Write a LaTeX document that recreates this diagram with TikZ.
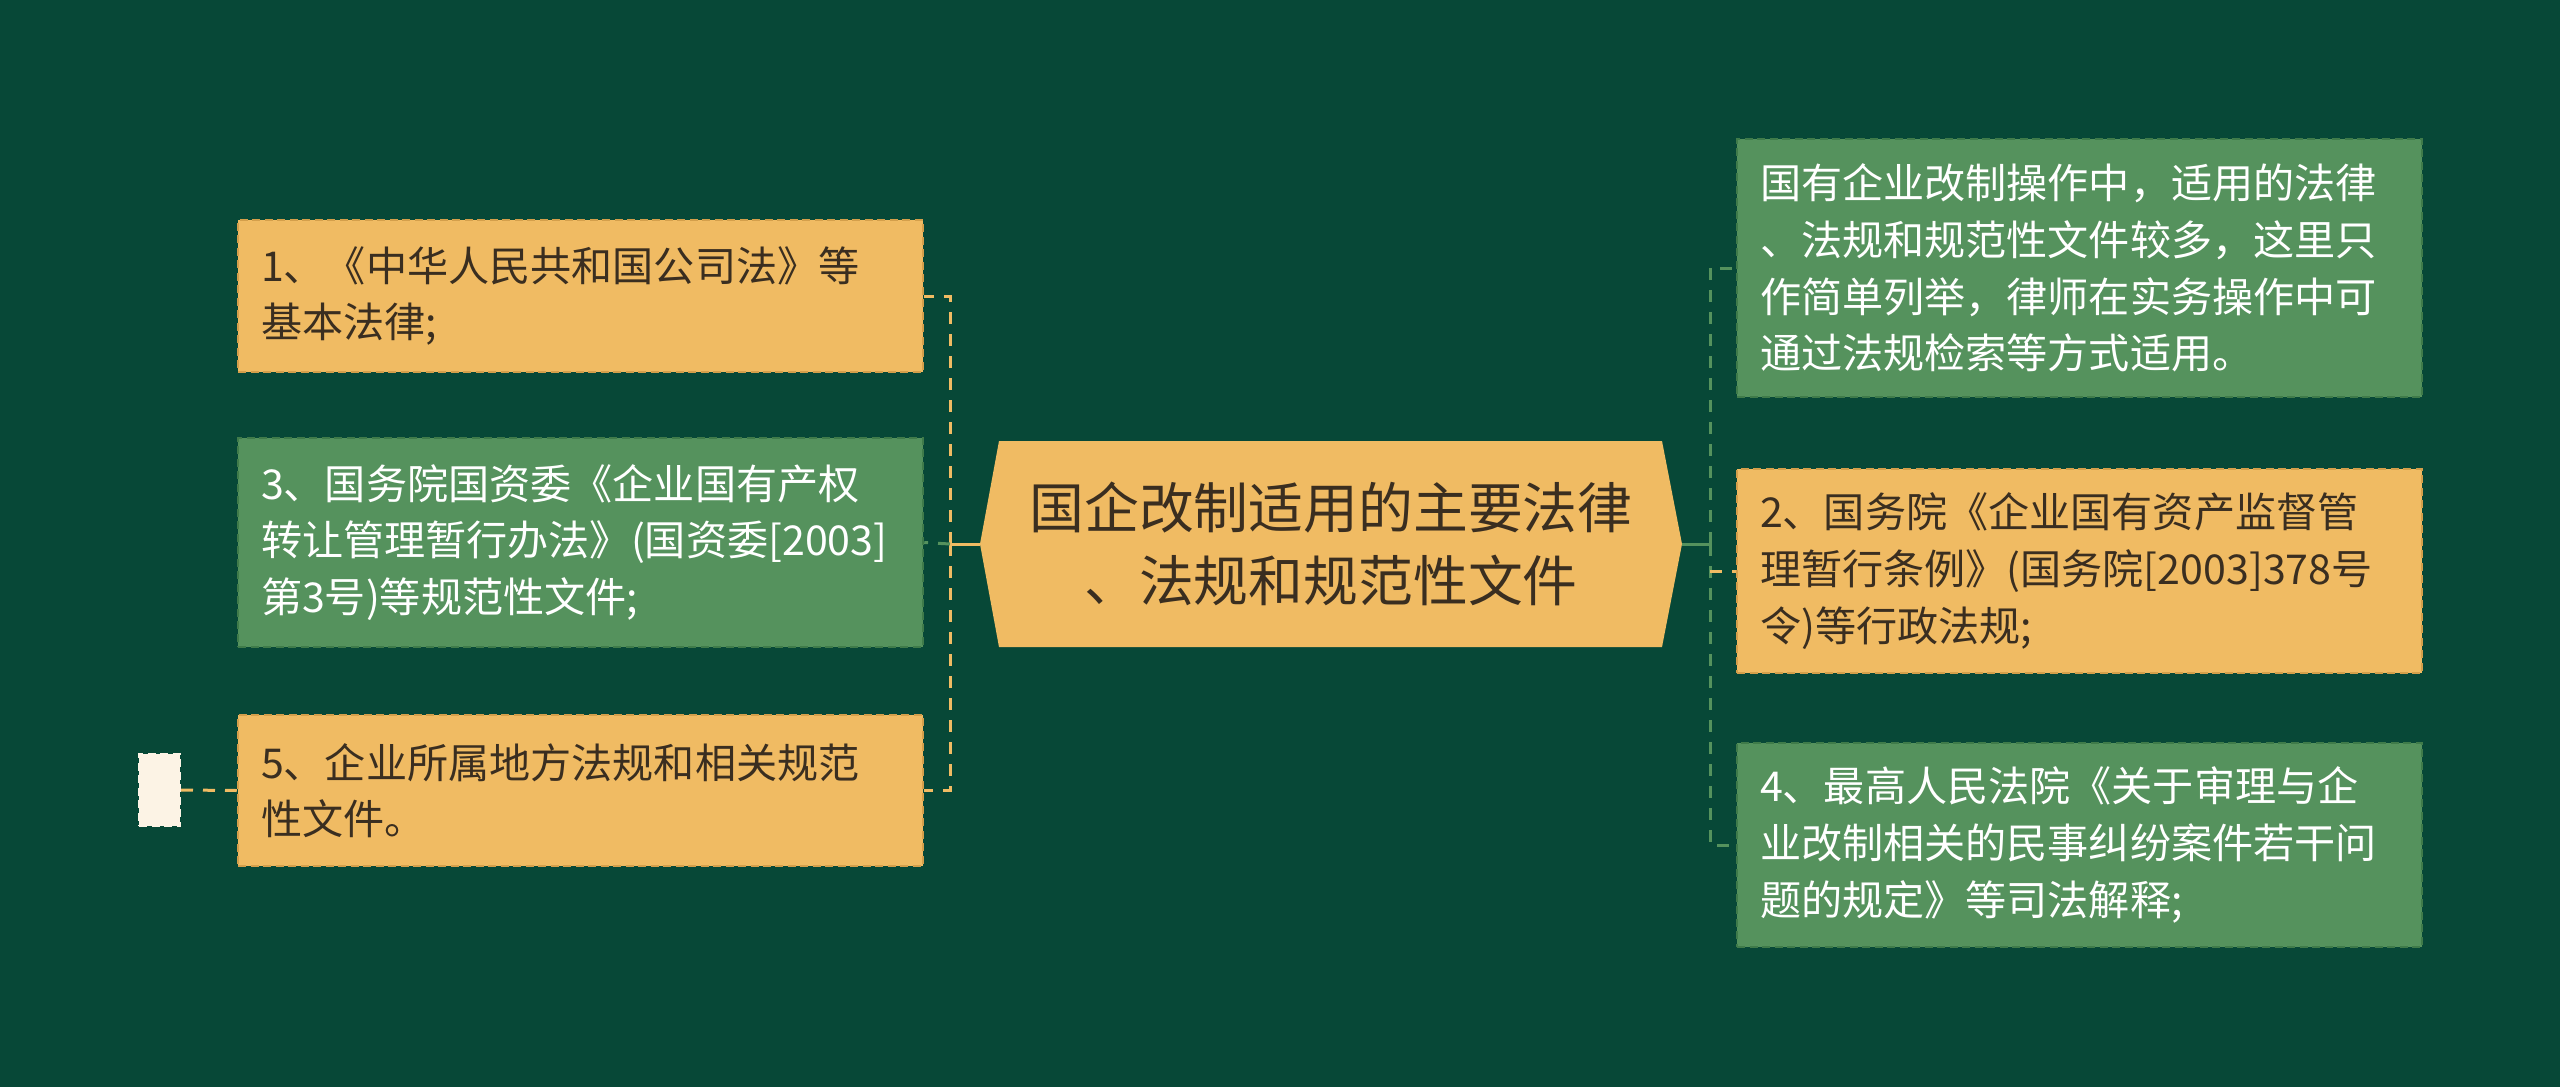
\documentclass[tikz,border=0pt]{standalone}
\usepackage{fontspec}
\setmainfont{Noto Sans CJK SC}
\definecolor{cbg}{HTML}{074837}
\definecolor{cyel}{HTML}{F0BB63}
\definecolor{cyelb}{HTML}{D49F4B}
\definecolor{cgrn}{HTML}{55925D}
\definecolor{cgrnb}{HTML}{3F7B4A}
\definecolor{ccream}{HTML}{FCF3E5}
\definecolor{ctext}{HTML}{3A2E20}
\begin{document}
\begin{tikzpicture}[x=0.1mm,y=-0.1mm,
  box/.style={draw, dash pattern=on 0.8mm off 0.45mm, line width=0.25mm, inner sep=0pt,
    text width=63.9mm, minimum width=68.5mm, align=left,
    font=\fontsize{11.7pt}{16.1pt}\selectfont},
  ybox/.style={box, fill=cyel, draw=cyelb, text=ctext},
  gbox/.style={box, fill=cgrn, draw=cgrnb, text=white},
  conn/.style={line width=0.3mm, dash pattern=on 1.2mm off 1mm},
  yconn/.style={conn, draw=cyel},
  gconn/.style={conn, draw=cgrn}]
\fill[cbg] (0,0) rectangle (2560,1087);
\useasboundingbox (0,0) rectangle (2560,1087);
% center
\fill[cyel] (980,544) -- (999,441) -- (1662,441) -- (1682,544) -- (1662,647) -- (999,647) -- cycle;
\node[font=\fontsize{15.6pt}{20.8pt}\selectfont, align=center, text=ctext, inner sep=0pt] (c) at (1331,544)
  {国企改制适用的主要法律\\、法规和规范性文件};
\coordinate (cl) at (980,544);
\coordinate (cr) at (1682,544);
\coordinate (lj) at (950,544);
\coordinate (rj) at (1710,544);
% left boxes
\node[ybox, minimum height=15.2mm] (b1) at (580.5,296)
  {1、《中华人民共和国公司法》等\\基本法律;};
\node[gbox, minimum height=20.9mm] (b3) at (580.5,542.5)
  {3、国务院国资委《企业国有产权\\转让管理暂行办法》(国资委[2003]\\第3号)等规范性文件;};
\node[ybox, minimum height=15.1mm] (b5) at (580.5,790.5)
  {5、企业所属地方法规和相关规范\\性文件。};
\node[draw=ccream, fill=ccream, dash pattern=on 0.8mm off 0.45mm, line width=0.2mm,
  minimum width=4.1mm, minimum height=7.2mm, inner sep=0pt] (s5) at (159.5,790) {};
% right boxes
\node[gbox, minimum height=25.8mm] (bA) at (2079.5,268)
  {国有企业改制操作中，适用的法律\\、法规和规范性文件较多，这里只\\作简单列举，律师在实务操作中可\\通过法规检索等方式适用。};
\node[ybox, minimum height=20.4mm] (b2) at (2079.5,571)
  {2、国务院《企业国有资产监督管\\理暂行条例》(国务院[2003]378号\\令)等行政法规;};
\node[gbox, minimum height=20.4mm] (b4) at (2079.5,845)
  {4、最高人民法院《关于审理与企\\业改制相关的民事纠纷案件若干问\\题的规定》等司法解释;};
% left connectors
\draw[cyel, line width=0.3mm] (cl) -- (lj);
\draw[yconn] (lj) |- (b1.east);
\draw[yconn] (lj) |- (b5.east);
\draw[gconn] (lj) -- (b3.east);
\draw[yconn] (s5.east) -- (b5.west);
% right connectors
\draw[cgrn, line width=0.3mm] (cr) -- (rj);
\draw[gconn] (rj) |- (bA.west);
\draw[gconn] (rj) |- (b4.west);
\draw[yconn] (b2.west -| rj) -- (b2.west);
\end{tikzpicture}
\end{document}
